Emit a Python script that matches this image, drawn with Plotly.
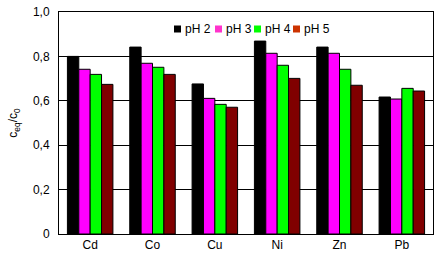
import plotly.graph_objects as go

metals = ["Cd", "Co", "Cu", "Ni", "Zn", "Pb"]
series_names = ["pH 2", "pH 3", "pH 4", "pH 5"]
ph2 = [0.80, 0.842, 0.676, 0.869, 0.842, 0.617]
ph3 = [0.742, 0.769, 0.611, 0.814, 0.814, 0.608]
ph4 = [0.719, 0.751, 0.584, 0.760, 0.742, 0.656]
ph5 = [0.674, 0.719, 0.571, 0.701, 0.670, 0.644]
y_ticks = [0, 0.2, 0.4, 0.6, 0.8, 1.0]
y_tick_labels = ["0", "0,2", "0,4", "0,6", "0,8", "1,0"]

bar_colors = ["#000000", "#FF00FF", "#00FF00", "#800000"]
legend_colors = ["#000000", "#FF33CC", "#00FF00", "#CC3300"]

fig = go.Figure()
for name, vals, col in zip(series_names, [ph2, ph3, ph4, ph5], bar_colors):
    fig.add_trace(go.Bar(x=metals, y=vals, name=name, showlegend=False,
                         marker=dict(color=col, line=dict(color="#000000", width=1))))

font = dict(family="Liberation Sans, Arial, sans-serif", size=12, color="#000000")

# manual legend
sq_x = [174, 215, 254, 293]
W, H = 436, 260
ml, mr, mt, mb = 59, 3, 12, 26
pw, ph_ = W - ml - mr, H - mt - mb
def px2x(px):
    return (px - ml) / pw
def py2y(py):
    return 1 - (py - mt) / ph_
shapes = []
annotations = []
for name, col, sx in zip(series_names, legend_colors, sq_x):
    shapes.append(dict(type="rect", xref="paper", yref="paper",
                       x0=px2x(sx), x1=px2x(sx + 7), y0=py2y(32.5), y1=py2y(25.5),
                       fillcolor=col, line=dict(width=0)))
    annotations.append(dict(xref="paper", yref="paper", x=px2x(sx + 9), y=py2y(29),
                            text=name, showarrow=False, xanchor="left", yanchor="middle",
                            font=font))

fig.update_layout(
    width=W, height=H,
    margin=dict(l=ml, r=mr, t=mt, b=mb),
    paper_bgcolor="white", plot_bgcolor="white",
    barmode="group", bargap=0.27, bargroupgap=0,
    font=font,
    shapes=shapes, annotations=annotations,
    xaxis=dict(showline=True, linecolor="black", linewidth=1, mirror=True,
               ticks="", showgrid=False, tickfont=font),
    yaxis=dict(range=[0, 1.0], tickvals=y_ticks, ticktext=y_tick_labels,
               showgrid=True, gridcolor="black", gridwidth=1,
               showline=True, linecolor="black", linewidth=1, mirror=True,
               ticks="", ticklabelstandoff=6, zeroline=False, tickfont=font,
               title=dict(text="c<sub>eq</sub>/c<sub>0</sub>", font=font, standoff=12)),
)

fig.write_html("out.html")
